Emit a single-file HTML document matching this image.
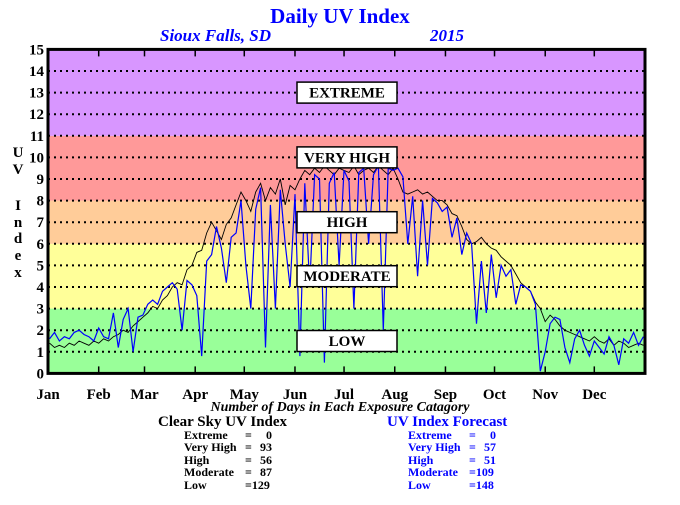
<!DOCTYPE html>
<html><head><meta charset="utf-8"><style>
body{margin:0;background:#fff;}
svg text{font-family:"Liberation Serif",serif;font-weight:bold;}
</style></head><body>
<svg width="680" height="500" viewBox="0 0 680 500" xmlns="http://www.w3.org/2000/svg">
<g id="bands"></g>
<g id="grid"></g>
<g id="series"></g>
<g id="boxes"></g>
<g id="axes"></g>
<text x="340" y="23" text-anchor="middle" font-size="21" fill="#0000ff">Daily UV Index</text>
<text x="160" y="41" font-size="17" font-style="italic" fill="#0000ff">Sioux Falls, SD</text>
<text x="430" y="41" font-size="17" font-style="italic" fill="#0000ff">2015</text>
<g font-size="15" text-anchor="middle">
<text x="18" y="157">U</text><text x="18" y="174">V</text><text x="18" y="210">I</text><text x="18" y="227">n</text><text x="18" y="243">d</text><text x="18" y="260">e</text><text x="18" y="277">x</text>
</g>
<text x="340" y="411" text-anchor="middle" font-size="14" font-style="italic">Number of Days in Each Exposure Catagory</text>
<g font-size="12">
<text x="158" y="426" font-size="15">Clear Sky UV Index</text>
<text x="184" y="439">Extreme</text><text x="245" y="439">=</text><text x="272" y="439" text-anchor="end">0</text>
<text x="184" y="451">Very High</text><text x="245" y="451">=</text><text x="272" y="451" text-anchor="end">93</text>
<text x="184" y="464">High</text><text x="245" y="464">=</text><text x="272" y="464" text-anchor="end">56</text>
<text x="184" y="476">Moderate</text><text x="245" y="476">=</text><text x="272" y="476" text-anchor="end">87</text>
<text x="184" y="489">Low</text><text x="245" y="489">=129</text>
</g>
<g font-size="12" fill="#0000ff">
<text x="387" y="426" font-size="15">UV Index Forecast</text>
<text x="408" y="439">Extreme</text><text x="469" y="439">=</text><text x="496" y="439" text-anchor="end">0</text>
<text x="408" y="451">Very High</text><text x="469" y="451">=</text><text x="496" y="451" text-anchor="end">57</text>
<text x="408" y="464">High</text><text x="469" y="464">=</text><text x="496" y="464" text-anchor="end">51</text>
<text x="408" y="476">Moderate</text><text x="469" y="476">=109</text>
<text x="408" y="489">Low</text><text x="469" y="489">=148</text>
</g>
</svg>
<script>
const months=["Jan","Feb","Mar","Apr","May","Jun","Jul","Aug","Sep","Oct","Nov","Dec"];
const monthStart=[0,31,59,90,120,151,181,212,243,273,304,334];
const yTicks=[0,1,2,3,4,5,6,7,8,9,10,11,12,13,14,15];
const bandNames=["LOW","MODERATE","HIGH","VERY HIGH","EXTREME"];
const bandLo=[0,3,6,8,11];
const bandHi=[3,6,8,11,15];
const bandLabelAt=[1.5,4.5,7,10,13];
const stepDays=3;
const clearSky=[1.4,1.2,1.3,1.2,1.4,1.3,1.5,1.4,1.3,1.5,1.4,
1.6,1.5,1.7,1.8,2.0,1.9,2.2,2.4,2.6,
2.8,3.1,3.0,3.4,3.6,4.0,4.2,4.1,4.8,5.0,
5.6,5.7,6.5,7.0,6.6,6.2,6.9,7.2,7.8,8.4,
8.0,7.5,8.4,8.8,8.0,8.6,8.3,9.0,7.8,8.7,8.5,
9.0,9.4,9.2,9.5,9.3,9.6,9.4,9.2,9.5,9.4,
9.3,9.6,9.2,9.4,9.5,9.3,9.6,9.4,9.2,9.5,
9.0,8.4,8.3,8.4,8.5,8.3,8.4,8.2,8.0,8.0,
7.8,7.4,7.3,6.8,6.2,6.0,6.1,6.3,6.0,5.8,
5.7,5.4,5.2,5.0,4.6,4.2,4.0,3.8,3.3,3.0,
2.4,2.7,2.5,2.2,2.0,1.9,1.8,1.7,1.6,1.5,
1.7,1.5,1.4,1.6,1.3,1.5,1.4,1.2,1.3,1.4,1.3];
const forecast=[1.6,1.9,1.5,1.7,1.6,1.9,2.0,1.8,1.7,1.5,2.1,
1.7,1.6,2.8,1.2,2.5,3.0,1.0,2.6,2.7,
3.2,3.4,3.2,3.8,4.0,4.2,3.9,2.0,4.3,4.1,
3.6,0.8,5.2,5.5,6.8,5.8,4.2,6.3,6.5,8.0,
5.0,3.0,7.6,8.6,1.2,7.8,3.0,8.5,6.0,4.0,8.3,
0.8,8.8,4.0,9.2,9.0,0.5,8.8,9.3,5.0,9.4,
8.9,3.0,9.3,9.5,6.0,9.2,9.6,2.0,9.5,9.4,
9.5,9.1,6.0,8.2,4.5,8.0,5.0,8.1,7.9,7.5,
7.7,6.3,7.2,5.5,6.5,6.0,2.3,5.2,2.8,5.5,
3.5,5.0,4.5,4.8,3.2,4.1,4.0,3.8,3.2,0.1,
1.0,2.3,2.6,2.5,1.2,0.5,1.6,2.0,1.3,0.8,
1.5,1.2,0.9,1.7,1.3,0.4,1.6,1.4,1.9,1.3,1.7];

const L=48,R=645,T=49.4,B=373.4;
const xs=d=>L+(R-L)*d/365;
const ys=v=>B-(B-T)*v/15;
const NS="http://www.w3.org/2000/svg";
function mk(tag,attrs,parent){const e=document.createElementNS(NS,tag);for(const k in attrs)e.setAttribute(k,attrs[k]);parent.appendChild(e);return e;}
const bandColors=["#99ff99","#ffff99","#ffcc99","#ff9999","#d896ff"];
const gB=document.getElementById('bands');
bandLo.forEach((lo,i)=>{
 const r=mk('rect',{x:L,y:ys(bandHi[i]),width:R-L,height:ys(lo)-ys(bandHi[i]),fill:bandColors[i]},gB);
 
 
});
const gG=document.getElementById('grid');
const gA=document.getElementById('axes');
yTicks.forEach(v=>{
 if(v>0&&v<15){const l=mk('line',{x1:L,x2:R,y1:ys(v),y2:ys(v),stroke:'#000','stroke-width':2,'stroke-dasharray':'2 4'},gG);
 
 }
 const t=mk('text',{x:44,y:ys(v)+5,'text-anchor':'end','font-size':15},gA);t.textContent=v;
 
 
});
const gS=document.getElementById('series');
function path(arr,color,w,name){
 let d='';arr.forEach((v,i)=>{d+=(i?'L':'M')+xs(i*stepDays+1).toFixed(1)+','+ys(v).toFixed(1);});
 const p=mk('path',{d:d,fill:'none',stroke:color,'stroke-width':w},gS);
 
 
}
path(clearSky,'#000',0.9,'clear-sky-line');
path(forecast,'#0000ff',1.2,'forecast-line');
const gX=document.getElementById('boxes');
bandNames.forEach((n,i)=>{
 const cy=ys(bandLabelAt[i]);
 const r=mk('rect',{x:297,y:cy-10.5,width:100,height:21,fill:'#fff',stroke:'#000','stroke-width':1.5},gX);
 
 
 const t=mk('text',{x:347,y:cy+5,'text-anchor':'middle','font-size':15},gX);t.textContent=n;
 
 
});
const fr=mk('rect',{x:L,y:T,width:R-L,height:B-T,fill:'none',stroke:'#000','stroke-width':3},gA);


months.forEach((m,i)=>{
 const x=xs(monthStart[i]);
 if(i>0){mk('line',{x1:x,x2:x,y1:T,y2:T+7,stroke:'#000','stroke-width':1.5},gA);
 mk('line',{x1:x,x2:x,y1:B,y2:B-7,stroke:'#000','stroke-width':1.5},gA);}
 const t=mk('text',{x:x,y:399,'text-anchor':'middle','font-size':15},gA);t.textContent=m;
 
 
});
</script>
</body></html>
